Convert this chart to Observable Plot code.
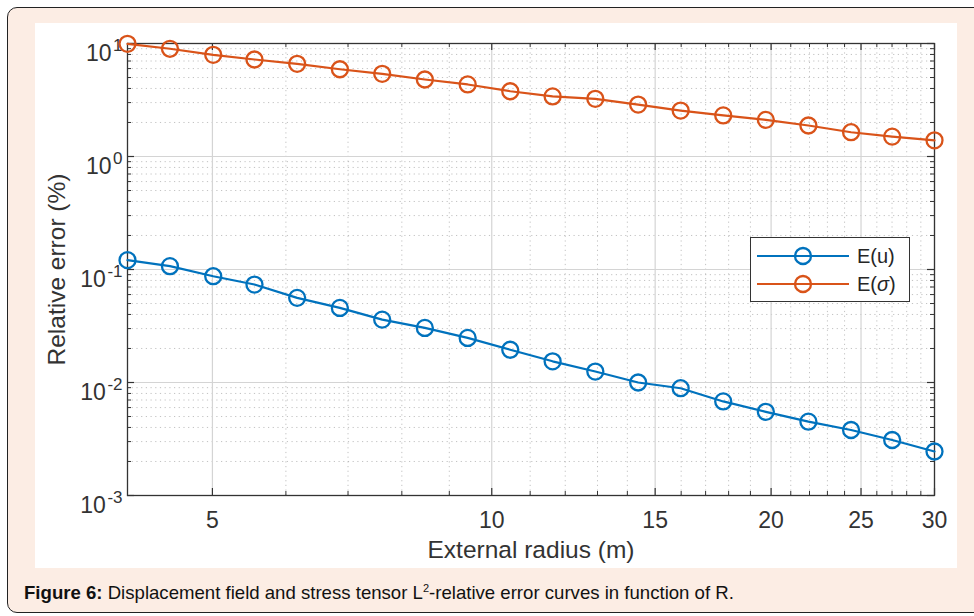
<!DOCTYPE html>
<html>
<head>
<meta charset="utf-8">
<script src="https://cdn.jsdelivr.net/npm/d3@7"></script>
<script src="https://cdn.jsdelivr.net/npm/@observablehq/plot@0.6"></script>
<style>
  html, body { margin: 0; padding: 0; background: #ffffff; width: 974px; height: 616px; overflow: hidden; }
  #box { position: absolute; left: 7px; top: 7px; width: 1000px; height: 606px; background: #fcede4;
         border: 1.5px solid #222; border-radius: 10px; box-sizing: border-box; }
  #fig { position: absolute; left: 35px; top: 23px; width: 922px; height: 545px; background: #fff; }
  #caption { position: absolute; left: 24px; top: 582px; font-family: "Liberation Sans", Arial, sans-serif;
             font-size: 18.6px; line-height: 22px; color: #111; white-space: nowrap; }
  #caption sup { font-size: 11px; vertical-align: 7px; line-height: 0; }
  #legend { position: absolute; left: 715px; top: 214px; width: 160px; height: 65px; background: #fff;
            border: 1px solid #333; box-sizing: border-box; font-family: "Liberation Sans", Arial, sans-serif;
            font-size: 20px; color: #262626; }
  .lrow { position: absolute; left: 6px; height: 26px; display: flex; align-items: center; }
  .lrow svg { display: block; }
  .lrow span { margin-left: 8px; }
</style>
</head>
<body>
<div id="box"></div>
<div id="fig"></div>
<div id="caption"><b>Figure 6:</b> Displacement field and stress tensor L<sup>2</sup>-relative error curves in function of R.</div>
<script>
// ---- data ----
const radius = [4.05, 4.50, 5.01, 5.55, 6.17, 6.86, 7.62, 8.47, 9.42, 10.47, 11.63, 12.93, 14.38, 15.98, 17.76, 19.74, 21.94, 24.39, 27.01, 30.0];
const errorU = [0.121, 0.107, 0.0872, 0.0736, 0.0561, 0.0457, 0.0360, 0.0304, 0.0248, 0.0195, 0.0154, 0.0125, 0.0100, 0.0089, 0.0068, 0.0055, 0.0045, 0.0038, 0.0031, 0.00245];
const errorSigma = [9.94, 8.98, 7.94, 7.22, 6.61, 5.92, 5.39, 4.80, 4.34, 3.78, 3.40, 3.24, 2.88, 2.55, 2.31, 2.11, 1.88, 1.64, 1.50, 1.39];
const seriesNames = ["E(u)", "E(\u03c3)"];
const seriesColors = ["#0072BD", "#D95319"];
const xTicks = [5, 10, 15, 20, 25, 30];
const xMinor = [6, 7, 8, 9, 11, 12, 13, 14, 16, 17, 18, 19, 21, 22, 23, 24, 26, 27, 28, 29];
const yTicks = [0.001, 0.01, 0.1, 1, 10];
const yMinorMult = [2, 3, 4, 5, 6, 7, 8, 9];
const xLabel = "External radius (m)";
const yLabel = "Relative error (%)";

// ---- derived ----
const yMinor = yTicks.slice(0, -1).flatMap(d => yMinorMult.map(m => +(d * m).toPrecision(3)));
const dataU = radius.map((r, i) => ({r, v: errorU[i], s: seriesNames[0]}));
const dataS = radius.map((r, i) => ({r, v: errorSigma[i], s: seriesNames[1]}));

const W = 922, H = 545, mL = 92, mR = 23, mT = 20, mB = 73;
const PH = H - mT - mB, PW = W - mL - mR;
const axisCol = "#333";
const majT = 7, minT = 4;

const chart = Plot.plot({
  width: W, height: H,
  marginLeft: mL, marginRight: mR, marginTop: mT, marginBottom: mB,
  style: {fontFamily: "'Liberation Sans', Arial, sans-serif", fontSize: "21px", color: "#333", background: "white", overflow: "visible"},
  x: {type: "log", domain: [radius[0], radius[radius.length - 1]]},
  y: {type: "log", domain: [yTicks[0], yTicks[yTicks.length - 1]]},
  marks: [
    // grids
    Plot.gridX(xMinor, {stroke: "#999", strokeOpacity: 0.6, strokeDasharray: "1.2,3.5"}),
    Plot.gridY(yMinor, {stroke: "#999", strokeOpacity: 0.6, strokeDasharray: "1.2,3.5"}),
    Plot.gridX(xTicks, {stroke: "#d4d4d4", strokeOpacity: 1, strokeWidth: 1.2}),
    Plot.gridY(yTicks, {stroke: "#d4d4d4", strokeOpacity: 1, strokeWidth: 1.2}),
    // axes
    Plot.axisX(xTicks, {tickSize: 0, tickPadding: 16, label: xLabel, labelAnchor: "center", labelOffset: 62, labelArrow: "none", tickFormat: d => String(d)}),
    Plot.axisY(yTicks, {tickSize: 0, tickPadding: 5, label: yLabel, labelAnchor: "center", labelOffset: 80, labelArrow: "none", tickFormat: d => String(Math.round(Math.log10(d)))}),
    Plot.frame({stroke: axisCol, strokeWidth: 1.3}),
    // tick marks (inward, all four sides)
    Plot.ruleX(xTicks, {x: d => d, insetTop: PH - majT, stroke: axisCol, strokeWidth: 1.2}),
    Plot.ruleX(xTicks, {x: d => d, insetBottom: PH - majT, stroke: axisCol, strokeWidth: 1.2}),
    Plot.ruleX(xMinor, {x: d => d, insetTop: PH - minT, stroke: axisCol, strokeWidth: 1}),
    Plot.ruleX(xMinor, {x: d => d, insetBottom: PH - minT, stroke: axisCol, strokeWidth: 1}),
    Plot.ruleY(yTicks, {y: d => d, insetRight: PW - majT, stroke: axisCol, strokeWidth: 1.2}),
    Plot.ruleY(yTicks, {y: d => d, insetLeft: PW - majT, stroke: axisCol, strokeWidth: 1.2}),
    Plot.ruleY(yMinor, {y: d => d, insetRight: PW - minT, stroke: axisCol, strokeWidth: 1}),
    Plot.ruleY(yMinor, {y: d => d, insetLeft: PW - minT, stroke: axisCol, strokeWidth: 1}),
    // data
    Plot.line(dataU, {x: "r", y: "v", stroke: seriesColors[0], strokeWidth: 2.2}),
    Plot.dot(dataU, {x: "r", y: "v", r: 8, stroke: seriesColors[0], strokeWidth: 2.3, fill: "none"}),
    Plot.line(dataS, {x: "r", y: "v", stroke: seriesColors[1], strokeWidth: 2.2}),
    Plot.dot(dataS, {x: "r", y: "v", r: 8, stroke: seriesColors[1], strokeWidth: 2.3, fill: "none"})
  ]
});

const sel = d3.select(chart);
// tick label size
sel.selectAll('g[aria-label="x-axis tick label"], g[aria-label="y-axis tick label"]').attr("font-size", 23)
  .selectAll("text").attr("font-size", 23);
// superscript exponents on y tick labels
sel.selectAll('g[aria-label="y-axis tick label"] text').each(function() {
  const t = d3.select(this);
  const exp = t.text();
  t.text("");
  t.attr("dy", "0.45em");
  t.append("tspan").text("10");
  t.append("tspan").attr("dx", "1.5").attr("dy", "-0.6em").attr("font-size", "17px").text(exp.replace("\u2212", "-"));
});
sel.selectAll('g[aria-label="x-axis label"], g[aria-label="y-axis label"]').attr("font-size", 24.5)
  .selectAll("text").attr("font-size", 24.5);

document.getElementById("fig").appendChild(chart);

// legend (line + circle swatches)
const legend = document.createElement("div");
legend.id = "legend";
seriesNames.forEach((name, i) => {
  const row = document.createElement("div");
  row.className = "lrow";
  row.style.top = (i === 0 ? 5 : 33) + "px";
  row.innerHTML = `<svg width="92" height="24"><line x1="0" x2="92" y1="12" y2="12" stroke="${seriesColors[i]}" stroke-width="2.2"/><circle cx="46" cy="12" r="8" fill="none" stroke="${seriesColors[i]}" stroke-width="2.3"/></svg><span>${name === "E(\u03c3)" ? "E(<i>\u03c3</i>)" : name}</span>`;
  legend.appendChild(row);
});
document.getElementById("fig").appendChild(legend);
</script>
</body>
</html>
